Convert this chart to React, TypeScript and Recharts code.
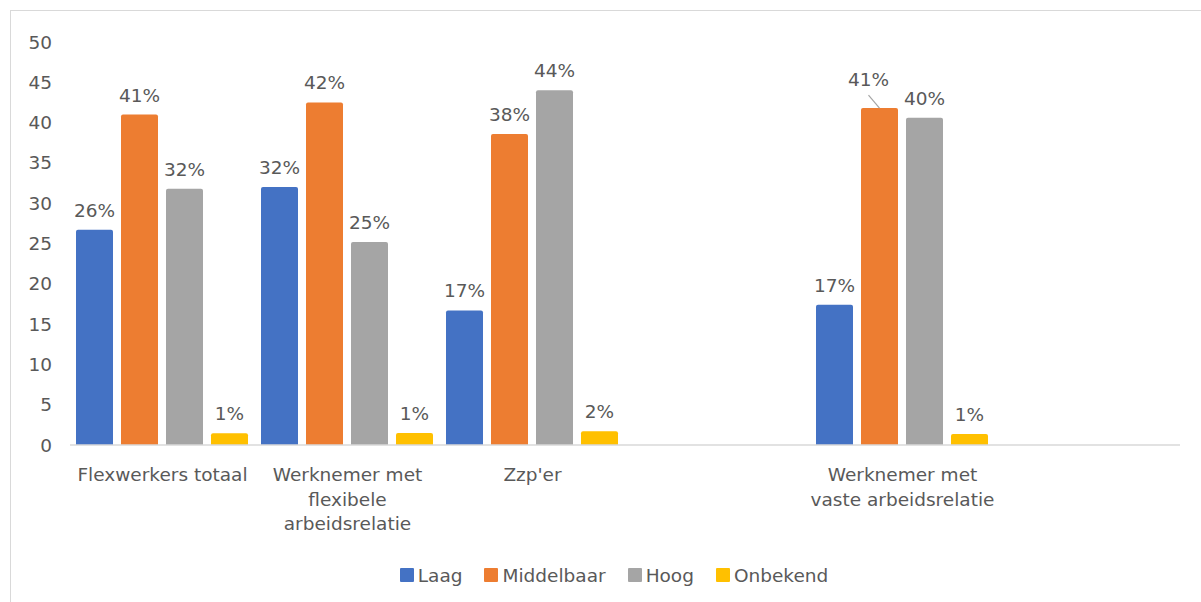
import React from "react";
import { BarChart, Bar, XAxis, YAxis, Legend, LabelList } from "recharts";

const categories = ["Flexwerkers totaal", "Werknemer met flexibele arbeidsrelatie", "Zzp'er", "leeg1", "Werknemer met vaste arbeidsrelatie", "leeg2"];
const tickLines: string[][] = [
  ["Flexwerkers totaal"],
  ["Werknemer met", "flexibele", "arbeidsrelatie"],
  ["Zzp'er"],
  [],
  ["Werknemer met", "vaste arbeidsrelatie"],
  [],
];
const laag = [26.7, 32.0, 16.7, null, 17.4, null];
const middelbaar = [41.0, 42.5, 38.6, null, 41.8, null];
const hoog = [31.8, 25.2, 44.0, null, 40.6, null];
const onbekend = [1.45, 1.5, 1.7, null, 1.35, null];

const laagLabels = ["26%", "32%", "17%", "", "17%", ""];
const middelbaarLabels = ["41%", "42%", "38%", "", "41%", ""];
const hoogLabels = ["32%", "25%", "44%", "", "40%", ""];
const onbekendLabels = ["1%", "1%", "2%", "", "1%", ""];
// label drawn beside its bar with a leader line (Middelbaar, vaste arbeidsrelatie)
const middelbaarLeader = [false, false, false, false, true, false];

const yTicks = [0, 5, 10, 15, 20, 25, 30, 35, 40, 45, 50];

const seriesNames = ["Laag", "Middelbaar", "Hoog", "Onbekend"];
const colors = ["#4472C4", "#ED7D31", "#A5A5A5", "#FFC000"];

const data = categories.map((c, i) => ({
  cat: c,
  Laag: laag[i],
  Middelbaar: middelbaar[i],
  Hoog: hoog[i],
  Onbekend: onbekend[i],
  LaagLabel: { text: laagLabels[i], leader: false },
  MiddelbaarLabel: { text: middelbaarLabels[i], leader: middelbaarLeader[i] },
  HoogLabel: { text: hoogLabels[i], leader: false },
  OnbekendLabel: { text: onbekendLabels[i], leader: false },
}));

const FONT = "'DejaVu Sans', Verdana, sans-serif";
const FS = 18.5;
const TEXT = "#595959";

const renderLabel = (props: any) => {
  const { x, y, width, value } = props;
  if (!value || !value.text) return null;
  const cx = x + width / 2;
  if (value.leader) {
    return (
      <g>
        <line x1={cx - 11} y1={y - 13} x2={cx} y2={y} stroke="#A5A5A5" strokeWidth={1.2} />
        <text x={cx - 11} y={y - 22} textAnchor="middle" fill={TEXT} fontSize={FS} fontFamily={FONT}>
          {value.text}
        </text>
      </g>
    );
  }
  return (
    <text x={cx} y={y - 13} textAnchor="middle" fill={TEXT} fontSize={FS} fontFamily={FONT}>
      {value.text}
    </text>
  );
};

const XTick = (props: any) => {
  const { x, y, payload } = props;
  const lines = tickLines[payload.index] || [];
  return (
    <g>
      {lines.map((l, k) => (
        <text key={k} x={x} y={y + 28 + k * 24.5} textAnchor="middle" fill={TEXT} fontSize={FS} fontFamily={FONT}>
          {l}
        </text>
      ))}
    </g>
  );
};

const LegendContent = () => (
  <div style={{ display: "flex", justifyContent: "center", alignItems: "center", fontFamily: FONT, fontSize: FS, color: TEXT, height: 40, paddingLeft: 38 }}>
    {seriesNames.map((n, i) => (
      <div key={n} style={{ display: "flex", alignItems: "center", marginRight: i < 3 ? 22 : 0 }}>
        <span style={{ display: "inline-block", width: 14, height: 14, background: colors[i], borderRadius: 1, marginRight: 4 }} />
        <span>{n}</span>
      </div>
    ))}
  </div>
);

export default function App() {
  return (
    <div style={{ position: "fixed", left: 0, top: 0, width: 1201, height: 602, overflow: "hidden", background: "#fff" }}>
      <div style={{ position: "absolute", left: 10, top: 10, width: 1300, height: 700, borderTop: "1px solid #d9d9d9", borderLeft: "1px solid #d9d9d9" }} />
      <div style={{ position: "absolute", left: 0, top: 0 }}>
        <BarChart
          width={1201}
          height={602}
          data={data}
          margin={{ top: 42, right: 21, left: 10, bottom: 7 }}
          barCategoryGap={6}
          barGap={8}
        >
          <XAxis
            dataKey="cat"
            height={110}
            tickLine={false}
            axisLine={{ stroke: "#d9d9d9", strokeWidth: 1.5 }}
            tick={<XTick />}
            interval={0}
          />
          <YAxis
            domain={[0, 50]}
            ticks={yTicks}
            width={60}
            tickLine={false}
            axisLine={false}
            tickSize={6}
            tickMargin={12}
            tick={{ fill: TEXT, fontSize: FS, fontFamily: FONT }}
          />
          <Legend verticalAlign="bottom" height={40} content={<LegendContent />} />
          <Bar dataKey="Laag" fill={colors[0]} radius={[2, 2, 0, 0]} isAnimationActive={false}>
            <LabelList dataKey="LaagLabel" content={renderLabel} />
          </Bar>
          <Bar dataKey="Middelbaar" fill={colors[1]} radius={[2, 2, 0, 0]} isAnimationActive={false}>
            <LabelList dataKey="MiddelbaarLabel" content={renderLabel} />
          </Bar>
          <Bar dataKey="Hoog" fill={colors[2]} radius={[2, 2, 0, 0]} isAnimationActive={false}>
            <LabelList dataKey="HoogLabel" content={renderLabel} />
          </Bar>
          <Bar dataKey="Onbekend" fill={colors[3]} radius={[2, 2, 0, 0]} isAnimationActive={false}>
            <LabelList dataKey="OnbekendLabel" content={renderLabel} />
          </Bar>
        </BarChart>
      </div>
    </div>
  );
}
